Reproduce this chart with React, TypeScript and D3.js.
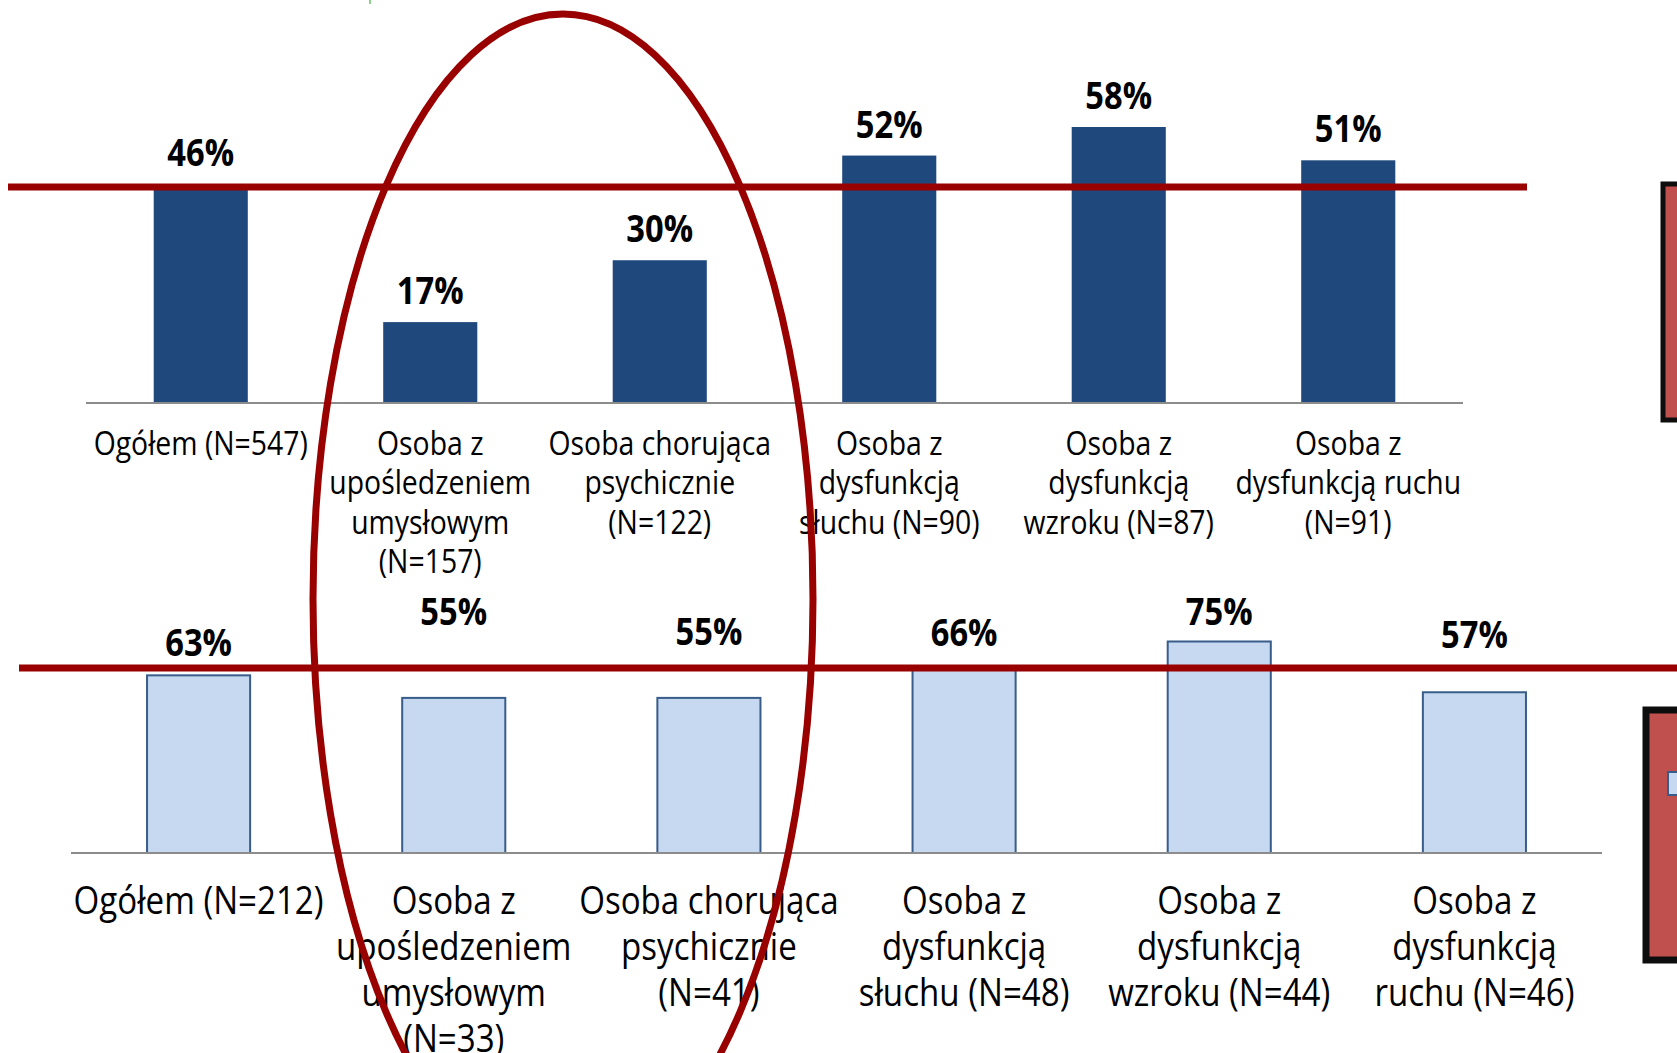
import * as d3 from "d3";
import { useEffect, useRef } from "react";

// top panel: all respondents
const topCategories = [
  ["Ogółem (N=547)"],
  ["Osoba z", "upośledzeniem", "umysłowym", "(N=157)"],
  ["Osoba chorująca", "psychicznie", "(N=122)"],
  ["Osoba z", "dysfunkcją", "słuchu (N=90)"],
  ["Osoba z", "dysfunkcją", "wzroku (N=87)"],
  ["Osoba z", "dysfunkcją ruchu", "(N=91)"],
];
const topValues = [46, 17, 30, 52, 58, 51];

// bottom panel: subgroup
const bottomCategories = [
  ["Ogółem (N=212)"],
  ["Osoba z", "upośledzeniem", "umysłowym", "(N=33)"],
  ["Osoba chorująca", "psychicznie", "(N=41)"],
  ["Osoba z", "dysfunkcją", "słuchu (N=48)"],
  ["Osoba z", "dysfunkcją", "wzroku (N=44)"],
  ["Osoba z", "dysfunkcją", "ruchu (N=46)"],
];
const bottomValues = [63, 55, 55, 66, 75, 57];

// hand-drawn red reference lines (in % of each panel)
const topReference = 45.4;
const bottomReference = 65.6;

const W = 1677;
const H = 1053;
const RED = "#990000";
const FONT = "'Open Sans', sans-serif";
// no narrow font available, squeeze Open Sans horizontally instead
const SQUEEZE = 0.86;

export default function App() {
  const ref = useRef<SVGSVGElement>(null);

  useEffect(() => {
    document.body.style.margin = "0";
    if (!ref.current) return;
    const svg = d3.select(ref.current);
    svg.selectAll("*").remove();

    svg.append("rect").attr("width", W).attr("height", H).attr("fill", "#fff");

    // tiny green tick at the top edge
    svg
      .append("line")
      .attr("x1", 370)
      .attr("x2", 370)
      .attr("y1", 0)
      .attr("y2", 4)
      .attr("stroke", "#8fd08f")
      .attr("stroke-width", 2);

    const label = (
      g: d3.Selection<SVGGElement, unknown, null, undefined>,
      x: number,
      y: number,
      lines: string[],
      size: number,
      lineH: number,
      bold = false
    ) => {
      const t = g
        .append("text")
        .attr("transform", `translate(${x},${y}) scale(${SQUEEZE},1)`)
        .attr("text-anchor", "middle")
        .style("font-family", FONT)
        .style("font-weight", bold ? "bold" : "normal")
        .style("font-size", `${size}px`)
        .attr("fill", "#000");
      lines.forEach((ln, j) => {
        t.append("tspan").attr("x", 0).attr("y", j * lineH).text(ln);
      });
    };

    // ---------- top panel ----------
    const xTop = d3
      .scaleBand<number>()
      .domain(d3.range(topValues.length))
      .range([86, 1463])
      .paddingInner(0.59)
      .paddingOuter(0.295);
    const yTop = d3.scaleLinear().domain([0, 58]).range([403, 127]);

    const top = svg.append("g");
    top
      .selectAll("rect.bar")
      .data(topValues)
      .enter()
      .append("rect")
      .attr("x", (d, i) => xTop(i)!)
      .attr("y", (d) => yTop(d))
      .attr("width", xTop.bandwidth())
      .attr("height", (d) => yTop(0) - yTop(d))
      .attr("fill", "#1F497D");

    top
      .append("line")
      .attr("x1", 86)
      .attr("x2", 1463)
      .attr("y1", yTop(0))
      .attr("y2", yTop(0))
      .attr("stroke", "#8c8c8c")
      .attr("stroke-width", 2);

    topValues.forEach((v, i) => {
      label(top, xTop(i)! + xTop.bandwidth() / 2, yTop(v) - 18, [`${v}%`], 38, 0, true);
    });

    topCategories.forEach((lines, i) => {
      label(top, xTop(i)! + xTop.bandwidth() / 2, 455, lines, 33, 39.5);
    });

    top
      .append("line")
      .attr("x1", 8)
      .attr("x2", 1527)
      .attr("y1", yTop(topReference))
      .attr("y2", yTop(topReference))
      .attr("stroke", RED)
      .attr("stroke-width", 7);

    // ---------- bottom panel ----------
    const xBot = d3
      .scaleBand<number>()
      .domain(d3.range(bottomValues.length))
      .range([71, 1602])
      .paddingInner(0.596)
      .paddingOuter(0.298);
    const yBot = d3.scaleLinear().domain([0, 75]).range([853, 641.5]);
    // labels were nudged by hand in the original
    const lift = [19, 73, 53, 21, 17, 44];

    const bot = svg.append("g");
    bot
      .selectAll("rect.bar")
      .data(bottomValues)
      .enter()
      .append("rect")
      .attr("x", (d, i) => xBot(i)!)
      .attr("y", (d) => yBot(d))
      .attr("width", xBot.bandwidth())
      .attr("height", (d) => yBot(0) - yBot(d))
      .attr("fill", "#C6D9F1")
      .attr("stroke", "#385D8A")
      .attr("stroke-width", 2);

    bot
      .append("line")
      .attr("x1", 71)
      .attr("x2", 1602)
      .attr("y1", yBot(0))
      .attr("y2", yBot(0))
      .attr("stroke", "#8c8c8c")
      .attr("stroke-width", 2);

    bottomValues.forEach((v, i) => {
      label(bot, xBot(i)! + xBot.bandwidth() / 2, yBot(v) - lift[i], [`${v}%`], 38, 0, true);
    });

    bottomCategories.forEach((lines, i) => {
      label(bot, xBot(i)! + xBot.bandwidth() / 2, 914, lines, 38.5, 46);
    });

    bot
      .append("line")
      .attr("x1", 19)
      .attr("x2", W)
      .attr("y1", yBot(bottomReference))
      .attr("y2", yBot(bottomReference))
      .attr("stroke", RED)
      .attr("stroke-width", 7);

    // ---------- legend boxes cut off at the right edge ----------
    svg
      .append("rect")
      .attr("x", 1663)
      .attr("y", 184)
      .attr("width", 40)
      .attr("height", 236)
      .attr("fill", "#C0504D")
      .attr("stroke", "#0d0d0d")
      .attr("stroke-width", 5);

    svg
      .append("rect")
      .attr("x", 1646)
      .attr("y", 710)
      .attr("width", 60)
      .attr("height", 250)
      .attr("fill", "#C0504D")
      .attr("stroke", "#0d0d0d")
      .attr("stroke-width", 7);

    svg
      .append("rect")
      .attr("x", 1668)
      .attr("y", 772)
      .attr("width", 20)
      .attr("height", 23)
      .attr("fill", "#C6D9F1")
      .attr("stroke", "#385D8A")
      .attr("stroke-width", 2);

    // ---------- highlight ellipse ----------
    svg
      .append("ellipse")
      .attr("cx", 563)
      .attr("cy", 599)
      .attr("rx", 250)
      .attr("ry", 585)
      .attr("fill", "none")
      .attr("stroke", RED)
      .attr("stroke-width", 7);

    return () => {
      svg.selectAll("*").remove();
    };
  }, []);

  return <svg ref={ref} width={W} height={H} style={{ display: "block" }} />;
}
